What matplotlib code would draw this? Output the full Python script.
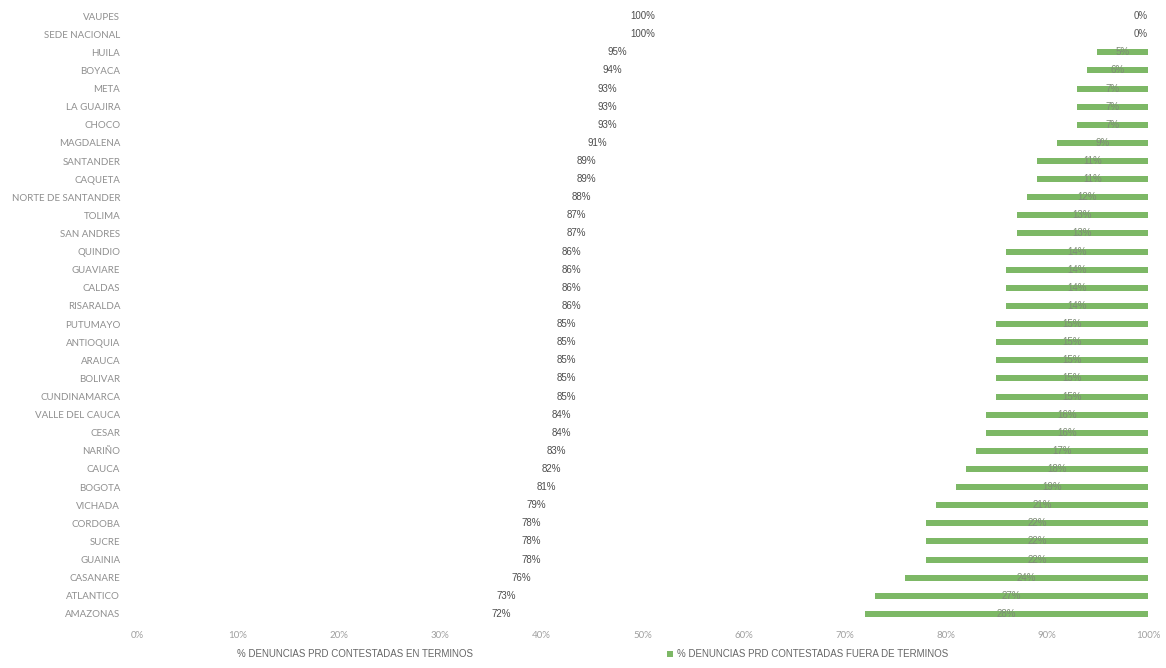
import matplotlib.pyplot as plt
import numpy as np
from matplotlib.ticker import FuncFormatter

departamentos = ['VAUPES', 'SEDE NACIONAL', 'HUILA', 'BOYACA', 'META', 'LA GUAJIRA', 'CHOCO',
                 'MAGDALENA', 'SANTANDER', 'CAQUETA', 'NORTE DE SANTANDER', 'TOLIMA',
                 'SAN ANDRES', 'QUINDIO', 'GUAVIARE', 'CALDAS', 'RISARALDA', 'PUTUMAYO',
                 'ANTIOQUIA', 'ARAUCA', 'BOLIVAR', 'CUNDINAMARCA', 'VALLE DEL CAUCA', 'CESAR',
                 'NARIÑO', 'CAUCA', 'BOGOTA', 'VICHADA', 'CORDOBA', 'SUCRE', 'GUAINIA',
                 'CASANARE', 'ATLANTICO', 'AMAZONAS']
en_terminos = [100, 100, 95, 94, 93, 93, 93, 91, 89, 89, 88, 87, 87, 86, 86, 86, 86, 85,
               85, 85, 85, 85, 84, 84, 83, 82, 81, 79, 78, 78, 78, 76, 73, 72]
fuera_terminos = [0, 0, 5, 6, 7, 7, 7, 9, 11, 11, 12, 13, 13, 14, 14, 14, 14, 15,
                  15, 15, 15, 15, 16, 16, 17, 18, 19, 21, 22, 22, 22, 24, 27, 28]

serie_en = '% DENUNCIAS PRD CONTESTADAS EN TERMINOS'
serie_fuera = '% DENUNCIAS PRD CONTESTADAS FUERA DE TERMINOS'

verde = '#7db866'

fig = plt.figure(figsize=(11.66, 6.68), dpi=100)
ax = fig.add_axes([0.1175, 0.0674, 0.8671, 0.9221])

y = np.arange(len(departamentos))
en = np.array(en_terminos)
fuera = np.array(fuera_terminos)

b1 = ax.barh(y, en, height=0.33, color='white', label=serie_en)
b2 = ax.barh(y, fuera, left=en, height=0.33, color=verde, label=serie_fuera)

# etiquetas de datos centradas en cada segmento
for i in range(len(y)):
    ax.text(en[i] / 2, y[i], f'{en[i]}%', ha='center', va='center',
            fontsize=7, color='#4d4d4d', family='Liberation Sans')
    if fuera[i] > 0:
        ax.text(en[i] + fuera[i] / 2, y[i], f'{fuera[i]}%', ha='center', va='center',
                fontsize=7, color='#7f8c78', family='Liberation Sans')
    else:
        ax.text(100, y[i], f'{fuera[i]}%', ha='right', va='center',
                fontsize=7, color='#555555', family='Liberation Sans')

ax.set_xlim(0, 100)
ax.set_ylim(len(y) - 0.5, -0.5)
ax.set_yticks(y)
ax.set_yticklabels(departamentos, fontsize=7, color='#8f8f8f', family='Lato')
ax.set_xticks(np.arange(0, 101, 10))
ax.xaxis.set_major_formatter(FuncFormatter(lambda v, p: f'{int(v)}%'))
ax.tick_params(axis='x', labelsize=7, colors='#a0a0a0', length=0, pad=6)
for t in ax.get_xticklabels():
    t.set_family('Lato')
ax.tick_params(axis='y', length=0, pad=12)
for s in ax.spines.values():
    s.set_visible(False)

leg = fig.legend(handles=[b1, b2], loc='lower center', bbox_to_anchor=(0.504, 0.0),
                 ncol=2, frameon=False, fontsize=7, handlelength=0.6, handleheight=0.6,
                 handletextpad=0.4, columnspacing=20)
for t in leg.get_texts():
    t.set_color('#666666')
    t.set_family('Liberation Sans')

fig.savefig('out.png', dpi=100, facecolor='white')
